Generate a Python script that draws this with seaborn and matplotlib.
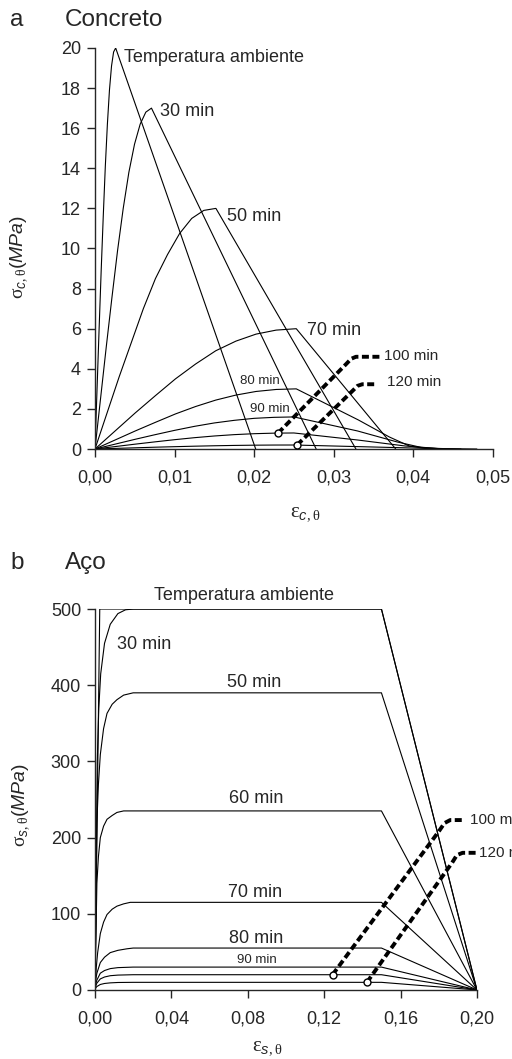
import pandas as pd
import numpy as np
import matplotlib
matplotlib.use('Agg')
import matplotlib.pyplot as plt
from matplotlib.ticker import FixedLocator, FuncFormatter
import seaborn as sns

# ---- concrete curves (strain, stress MPa) ----
c_amb_eps = [0, 0.00026, 0.00052, 0.00078, 0.00104, 0.0013, 0.00156, 0.00182, 0.00208, 0.00234, 0.0026, 0.0202]
c_amb_sig = [0, 3.0, 6.0, 8.9, 11.6, 14.1, 16.2, 17.9, 19.1, 19.8, 20.0, 0]
c30_eps = [0, 0.00071, 0.00142, 0.00213, 0.00284, 0.00355, 0.00426, 0.00497, 0.00568, 0.00639, 0.0071, 0.0278]
c30_sig = [0, 2.55, 5.1, 7.55, 9.9, 12.0, 13.8, 15.2, 16.2, 16.8, 17.0, 0]
c50_eps = [0, 0.00152, 0.00304, 0.00456, 0.00608, 0.0076, 0.00912, 0.01064, 0.01216, 0.01368, 0.0152, 0.0328]
c50_sig = [0, 1.8, 3.6, 5.3, 7.0, 8.5, 9.7, 10.75, 11.5, 11.9, 12.0, 0]
c70_eps = [0, 0.00253, 0.00506, 0.00759, 0.01012, 0.01265, 0.01518, 0.01771, 0.02024, 0.02277, 0.0253, 0.0378]
c70_sig = [0, 0.9, 1.8, 2.66, 3.5, 4.24, 4.9, 5.38, 5.73, 5.93, 6.0, 0]
c80_eps = [0, 0.00253, 0.00506, 0.00759, 0.01012, 0.01265, 0.01518, 0.01771, 0.02024, 0.02277, 0.0253,
           0.0331, 0.0370, 0.0395, 0.042]
c80_sig = [0, 0.45, 0.9, 1.33, 1.75, 2.12, 2.44, 2.69, 2.87, 2.97, 3.0, 1.45, 0.6, 0.15, 0]
c90_eps = [0, 0.0025, 0.005, 0.0075, 0.01, 0.0125, 0.015, 0.0175, 0.02, 0.0225, 0.025,
           0.033, 0.038, 0.041, 0.044]
c90_sig = [0, 0.24, 0.48, 0.71, 0.93, 1.13, 1.3, 1.43, 1.53, 1.58, 1.6, 0.9, 0.35, 0.08, 0]
c100_eps = [0, 0.0025, 0.005, 0.0075, 0.01, 0.0125, 0.015, 0.0175, 0.02, 0.0225, 0.025,
            0.033, 0.039, 0.043, 0.046]
c100_sig = [0, 0.12, 0.24, 0.355, 0.465, 0.565, 0.65, 0.717, 0.764, 0.791, 0.8, 0.45, 0.15, 0.03, 0]
c120_eps = [0, 0.0025, 0.005, 0.0075, 0.01, 0.0125, 0.015, 0.0175, 0.02, 0.0225, 0.025,
            0.035, 0.042, 0.048]
c120_sig = [0, 0.03, 0.06, 0.09, 0.116, 0.141, 0.162, 0.179, 0.191, 0.198, 0.2, 0.1, 0.03, 0]

# leader lines for 100 / 120 min (concrete)
c100_lead_eps = [0.0230, 0.0316, 0.0322, 0.0328, 0.0360]
c100_lead_sig = [0.79, 4.25, 4.5, 4.6, 4.6]
c120_lead_eps = [0.0254, 0.0325, 0.0330, 0.0336, 0.0354]
c120_lead_sig = [0.2, 2.95, 3.15, 3.23, 3.23]

# ---- steel curves ----
s_amb_eps = [0, 0.0025, 0.15, 0.2]
s_amb_sig = [0, 500, 500, 0]
s30_eps = [0, 0.0012, 0.002, 0.003, 0.005, 0.008, 0.012, 0.016, 0.02, 0.15, 0.2]
s30_sig = [0, 300, 370, 415, 455, 480, 494, 499, 500, 500, 0]
s50_eps = [0, 0.001, 0.0018, 0.0028, 0.0045, 0.0063, 0.009, 0.0115, 0.015, 0.02, 0.15, 0.2]
s50_sig = [0, 220, 270, 309, 343, 363, 375, 381, 387, 390, 390, 0]
s60_eps = [0, 0.001, 0.0018, 0.0028, 0.0045, 0.0063, 0.009, 0.0115, 0.015, 0.02, 0.15, 0.2]
s60_sig = [0, 140, 175, 200, 215, 224, 229, 233, 235, 235, 235, 0]
s70_eps = [0, 0.0007, 0.0014, 0.0028, 0.0045, 0.0063, 0.009, 0.0115, 0.015, 0.0185, 0.15, 0.2]
s70_sig = [0, 30, 49, 74, 89, 99, 106, 110, 113, 115, 115, 0]
s80_eps = [0, 0.0005, 0.001, 0.0028, 0.005, 0.008, 0.012, 0.0167, 0.02, 0.15, 0.2]
s80_sig = [0, 15, 22, 36, 43, 49, 52, 54, 55, 55, 0]
s90_eps = [0, 0.0005, 0.001, 0.0028, 0.005, 0.008, 0.012, 0.02, 0.15, 0.2]
s90_sig = [0, 9, 13, 22, 25.5, 28, 29.3, 30, 30, 0]
s100_eps = [0, 0.0005, 0.001, 0.0028, 0.005, 0.008, 0.012, 0.02, 0.15, 0.2]
s100_sig = [0, 6, 9, 14.5, 17, 18.7, 19.5, 20, 20, 0]
s120_eps = [0, 0.0005, 0.001, 0.0028, 0.005, 0.008, 0.012, 0.02, 0.15, 0.2]
s120_sig = [0, 3, 4.5, 7.2, 8.5, 9.3, 9.8, 10, 10, 0]

s100_lead_eps = [0.1244, 0.1800, 0.1830, 0.1860, 0.1930]
s100_lead_sig = [20, 208, 219, 223, 223]
s120_lead_eps = [0.1424, 0.1870, 0.1895, 0.1925, 0.1995]
s120_lead_sig = [10, 167, 177, 180, 180]

c_xticks = [0, 0.01, 0.02, 0.03, 0.04, 0.05]
c_yticks = [0, 2, 4, 6, 8, 10, 12, 14, 16, 18, 20]
s_xticks = [0, 0.04, 0.08, 0.12, 0.16, 0.20]
s_yticks = [0, 100, 200, 300, 400, 500]


def long_df(curves):
    rows = []
    for name, (e, s) in curves.items():
        for a, b in zip(e, s):
            rows.append((name, a, b))
    return pd.DataFrame(rows, columns=['curve', 'eps', 'sig'])


conc = long_df({'amb': (c_amb_eps, c_amb_sig), '30': (c30_eps, c30_sig),
                '50': (c50_eps, c50_sig), '70': (c70_eps, c70_sig),
                '80': (c80_eps, c80_sig), '90': (c90_eps, c90_sig),
                '100': (c100_eps, c100_sig), '120': (c120_eps, c120_sig)})
steel = long_df({'amb': (s_amb_eps, s_amb_sig), '30': (s30_eps, s30_sig),
                 '50': (s50_eps, s50_sig), '60': (s60_eps, s60_sig),
                 '70': (s70_eps, s70_sig), '80': (s80_eps, s80_sig),
                 '90': (s90_eps, s90_sig), '100': (s100_eps, s100_sig),
                 '120': (s120_eps, s120_sig)})

sns.set_style('ticks')
plt.rcParams['font.family'] = ['Liberation Sans', 'DejaVu Sans']
plt.rcParams['mathtext.fontset'] = 'custom'
plt.rcParams['mathtext.rm'] = 'Liberation Serif'
plt.rcParams['mathtext.it'] = 'Liberation Sans:italic'
plt.rcParams['mathtext.sf'] = 'Liberation Sans'

fig = plt.figure(figsize=(5.12, 10.59), dpi=100)
ax1 = fig.add_axes([0.1855, 0.576, 0.777, 0.3787])
ax2 = fig.add_axes([0.1855, 0.0652, 0.746, 0.3597])

comma = FuncFormatter(lambda v, p: f'{v:.2f}'.replace('.', ','))

for ax, df in ((ax1, conc), (ax2, steel)):
    sns.lineplot(data=df, x='eps', y='sig', units='curve', estimator=None,
                 sort=False, color='black', lw=0.8, ax=ax, legend=False)
    for s in ('top', 'right'):
        ax.spines[s].set_visible(False)
    for s in ('left', 'bottom'):
        ax.spines[s].set_linewidth(1.0)
    ax.tick_params(axis='both', labelsize=13, length=6, width=1.0, direction='out')
    ax.tick_params(axis='x', pad=9)
    ax.tick_params(axis='y', pad=4)
    ax.xaxis.set_major_formatter(comma)

dash = dict(color='black', lw=2.8, dashes=(1.8, 0.9), solid_capstyle='butt',
            dash_capstyle='butt', clip_on=False)
circ = dict(marker='o', ms=5, mfc='white', mec='black', mew=1.0, ls='none',
            clip_on=False, zorder=5)

# concrete panel
ax1.set_xlim(0, 0.05)
ax1.set_ylim(0, 20)
ax1.xaxis.set_major_locator(FixedLocator(c_xticks))
ax1.yaxis.set_major_locator(FixedLocator(c_yticks))
ax1.plot(c100_lead_eps, c100_lead_sig, **dash)
ax1.plot(c120_lead_eps, c120_lead_sig, **dash)
ax1.plot(c100_lead_eps[:1], c100_lead_sig[:1], **circ)
ax1.plot(c120_lead_eps[:1], c120_lead_sig[:1], **circ)
ax1.text(0.00364, 19.5, 'Temperatura ambiente', fontsize=13, va='center')
ax1.text(0.0082, 16.83, '30 min', fontsize=13, va='center')
ax1.text(0.01664, 11.6, '50 min', fontsize=13, va='center')
ax1.text(0.02667, 5.93, '70 min', fontsize=13, va='center')
ax1.text(0.0182, 3.4, '80 min', fontsize=9.5, va='center')
ax1.text(0.01948, 2.0, '90 min', fontsize=9.5, va='center')
ax1.text(0.03634, 4.65, '100 min', fontsize=11, va='center')
ax1.text(0.03664, 3.33, '120 min', fontsize=11, va='center')
ax1.set_xlabel(r'$\mathrm{\varepsilon}_{\mathit{c},\mathrm{\theta}}$', fontsize=15)
ax1.set_ylabel(r'$\mathrm{\sigma}_{\mathit{c},\mathrm{\theta}}\mathsf{(}\mathit{MPa}\mathsf{)}$',
               fontsize=14)
ax1.xaxis.set_label_coords(0.529, -0.14)
ax1.yaxis.set_label_coords(-0.163, 0.48)

# steel panel
ax2.set_xlim(0, 0.2)
ax2.set_ylim(0, 500)
ax2.xaxis.set_major_locator(FixedLocator(s_xticks))
ax2.yaxis.set_major_locator(FixedLocator(s_yticks))
ax2.yaxis.set_major_formatter(FuncFormatter(lambda v, p: f'{v:.0f}'))
ax2.plot(s100_lead_eps, s100_lead_sig, **dash)
ax2.plot(s120_lead_eps, s120_lead_sig, **dash)
ax2.plot(s100_lead_eps[:1], s100_lead_sig[:1], **circ)
ax2.plot(s120_lead_eps[:1], s120_lead_sig[:1], **circ)
ax2.text(0.078, 518, 'Temperatura ambiente', fontsize=13, ha='center', va='center')
ax2.text(0.0115, 453, '30 min', fontsize=13, va='center')
ax2.text(0.0831, 404, '50 min', fontsize=13, ha='center', va='center')
ax2.text(0.0845, 251, '60 min', fontsize=13, ha='center', va='center')
ax2.text(0.0839, 128, '70 min', fontsize=13, ha='center', va='center')
ax2.text(0.0846, 67, '80 min', fontsize=13, ha='center', va='center')
ax2.text(0.085, 39, '90 min', fontsize=9.5, ha='center', va='center')
ax2.text(0.1965, 223, '100 min', fontsize=11, va='center')
ax2.text(0.2009, 180, '120 min', fontsize=11, va='center')
ax2.set_xlabel(r'$\mathrm{\varepsilon}_{\mathit{s},\mathrm{\theta}}$', fontsize=15)
ax2.set_ylabel(r'$\mathrm{\sigma}_{\mathit{s},\mathrm{\theta}}\mathsf{(}\mathit{MPa}\mathsf{)}$',
               fontsize=14)
ax2.xaxis.set_label_coords(0.45, -0.128)
ax2.yaxis.set_label_coords(-0.166, 0.486)

fig.text(10 / 512, 1 - 20 / 1059, 'a', fontsize=17.5, va='center')
fig.text(65 / 512, 1 - 20 / 1059, 'Concreto', fontsize=17.5, va='center')
fig.text(10 / 512, 1 - 563 / 1059, 'b', fontsize=17.5, va='center')
fig.text(65 / 512, 1 - 563 / 1059, 'Aço', fontsize=17.5, va='center')

fig.savefig('out.png', dpi=100)
